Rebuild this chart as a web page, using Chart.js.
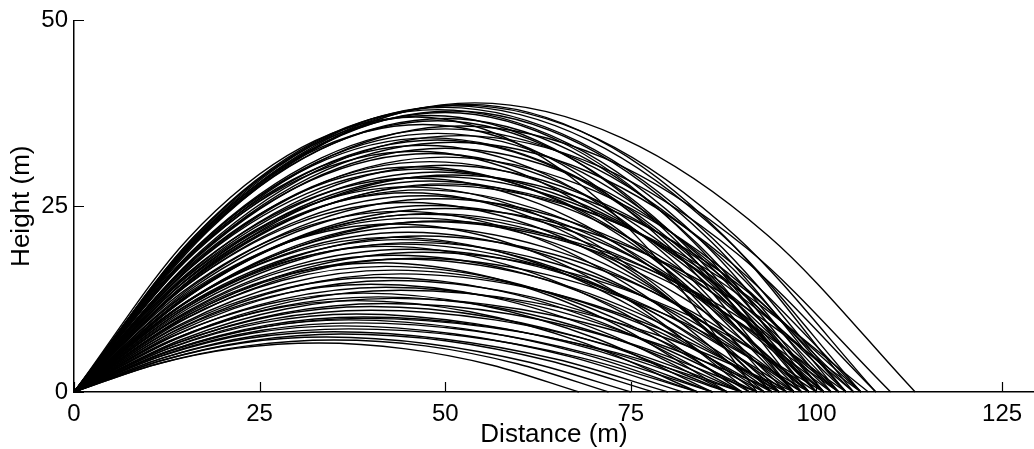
<!DOCTYPE html>
<html>
<head>
<meta charset="utf-8">
<script src="https://cdn.jsdelivr.net/npm/chart.js@4/dist/chart.umd.min.js"></script>
<style>
  html, body { margin: 0; padding: 0; background: #fff; }
  #wrap { width: 1034px; height: 449px; position: relative; }
</style>
</head>
<body>
<div id="wrap"><canvas id="myChart"></canvas></div>
<script>
// Trajectoires (m) : sommet, point d'impact,
// hauteurs a 1/3 et 2/3 de la montee, puis a 1/3 et 2/3 de la descente
const apexDist = [54, 52, 51, 50, 53, 49, 50, 48, 51, 46, 50, 49,
    50, 49, 48, 51, 47, 50, 46, 49, 52, 48,
    48, 50, 47, 49, 51, 46, 48, 50, 45, 47, 49, 46,
    47, 49, 45, 48, 50, 44, 47, 46, 49, 43, 46, 48,
    45, 47, 44, 46, 42, 45, 47, 43, 44, 41, 46, 43,
    43, 44, 41, 43, 40, 42, 44, 39, 41, 38, 42, 40,
    40, 38, 39, 37, 38, 36, 37, 35, 36, 34, 35, 33,
    47, 50, 45, 48, 44, 42, 43, 39, 52, 49];
const apexHeight = [38.9, 38.6, 38.5, 38.3, 38.7, 38.0, 37.6, 37.2, 37.8, 37.0, 36.8, 36.5,
    35.4, 34.8, 34.2, 33.6, 33.2, 32.8, 32.4, 33.9, 34.5, 32.1,
    31.0, 30.5, 30.0, 29.6, 29.2, 28.8, 28.4, 28.0, 27.6, 27.2, 29.0, 30.3,
    26.4, 26.0, 25.5, 25.1, 24.7, 24.3, 23.9, 23.4, 23.0, 22.6, 22.2, 24.0,
    21.5, 21.0, 20.5, 20.1, 19.6, 19.2, 18.8, 18.4, 17.9, 17.4, 18.0, 20.8,
    16.4, 15.9, 15.4, 15.0, 14.5, 14.1, 13.7, 13.3, 12.8, 12.3, 11.9, 11.5,
    11.0, 10.5, 10.1, 9.7, 9.3, 8.9, 8.5, 8.1, 7.8, 7.4, 7.0, 6.6,
    36.0, 31.6, 26.8, 22.9, 19.9, 16.9, 12.6, 9.9, 35.8, 27.8];
const landDist = [113.3, 108, 106, 104, 105, 102, 100, 98, 103, 92, 101, 99,
    104, 101, 100, 106, 97, 103, 95, 99, 108, 100,
    100, 104, 98, 102, 106, 96, 101, 105, 94, 99, 103, 97,
    99, 103, 95, 101, 106, 93, 99, 97, 104, 91, 98, 102,
    96, 100, 94, 98, 90, 97, 101, 93, 95, 88, 99, 92,
    94, 96, 90, 93, 88, 92, 97, 86, 90, 84, 92, 88,
    90, 86, 88, 84, 86, 82, 84, 80, 78, 75, 72, 68,
    97, 105, 94, 103, 95, 91, 95, 90, 110, 107];
const riseLow = [21.6, 21.5, 21.4, 21.3, 21.5, 21.1, 20.9, 20.7, 21.0, 20.6, 20.5, 20.3,
    19.7, 19.3, 19.0, 18.7, 18.5, 18.2, 18.0, 18.8, 19.2, 17.8,
    17.2, 17.0, 16.7, 16.5, 16.2, 16.0, 15.8, 15.6, 15.3, 15.1, 16.1, 16.8,
    14.7, 14.5, 14.2, 14.0, 13.7, 13.5, 13.3, 13.0, 12.8, 12.6, 12.3, 13.3,
    12.0, 11.7, 11.4, 11.2, 10.9, 10.7, 10.5, 10.2, 10.0, 9.7, 10.0, 11.6,
    9.1, 8.8, 8.6, 8.3, 8.1, 7.8, 7.6, 7.4, 7.1, 6.8, 6.6, 6.4,
    6.1, 5.8, 5.6, 5.4, 5.2, 4.9, 4.7, 4.5, 4.3, 4.1, 3.9, 3.7,
    20.0, 17.6, 14.9, 12.7, 11.1, 9.4, 7.0, 5.5, 19.9, 15.5];
const riseHigh = [34.6, 34.3, 34.2, 34.0, 34.4, 33.8, 33.4, 33.1, 33.6, 32.9, 32.7, 32.4,
    31.5, 30.9, 30.4, 29.9, 29.5, 29.2, 28.8, 30.1, 30.7, 28.5,
    27.6, 27.1, 26.7, 26.3, 26.0, 25.6, 25.2, 24.9, 24.5, 24.2, 25.8, 26.9,
    23.5, 23.1, 22.7, 22.3, 22.0, 21.6, 21.2, 20.8, 20.4, 20.1, 19.7, 21.3,
    19.1, 18.7, 18.2, 17.9, 17.4, 17.1, 16.7, 16.4, 15.9, 15.5, 16.0, 18.5,
    14.6, 14.1, 13.7, 13.3, 12.9, 12.5, 12.2, 11.8, 11.4, 10.9, 10.6, 10.2,
    9.8, 9.3, 9.0, 8.6, 8.3, 7.9, 7.6, 7.2, 6.9, 6.6, 6.2, 5.9,
    32.0, 28.1, 23.8, 20.4, 17.7, 15.0, 11.2, 8.8, 31.8, 24.7];
const fallHigh = [34.2, 34.0, 33.9, 33.7, 34.1, 33.4, 33.1, 32.7, 33.3, 32.6, 32.4, 32.1,
    31.2, 30.6, 30.1, 29.6, 29.2, 28.9, 28.5, 29.8, 30.4, 28.2,
    27.3, 26.8, 26.4, 26.0, 25.7, 25.3, 25.0, 24.6, 24.3, 23.9, 25.5, 26.7,
    23.2, 22.9, 22.4, 22.1, 21.7, 21.4, 21.0, 20.6, 20.2, 19.9, 19.5, 21.1,
    18.9, 18.5, 18.0, 17.7, 17.2, 16.9, 16.5, 16.2, 15.8, 15.3, 15.8, 18.3,
    14.4, 14.0, 13.6, 13.2, 12.8, 12.4, 12.1, 11.7, 11.3, 10.8, 10.5, 10.1,
    9.7, 9.2, 8.9, 8.5, 8.2, 7.8, 7.5, 7.1, 6.9, 6.5, 6.2, 5.8,
    31.7, 27.8, 23.6, 20.2, 17.5, 14.9, 11.1, 8.7, 31.5, 24.5];
const fallLow = [21.0, 20.8, 20.8, 20.7, 20.9, 20.5, 20.3, 20.1, 20.4, 20.0, 19.9, 19.7,
    19.1, 18.8, 18.5, 18.1, 17.9, 17.7, 17.5, 18.3, 18.6, 17.3,
    16.7, 16.5, 16.2, 16.0, 15.8, 15.6, 15.3, 15.1, 14.9, 14.7, 15.7, 16.4,
    14.3, 14.0, 13.8, 13.6, 13.3, 13.1, 12.9, 12.6, 12.4, 12.2, 12.0, 13.0,
    11.6, 11.3, 11.1, 10.9, 10.6, 10.4, 10.2, 9.9, 9.7, 9.4, 9.7, 11.2,
    8.9, 8.6, 8.3, 8.1, 7.8, 7.6, 7.4, 7.2, 6.9, 6.6, 6.4, 6.2,
    5.9, 5.7, 5.5, 5.2, 5.0, 4.8, 4.6, 4.4, 4.2, 4.0, 3.8, 3.6,
    19.4, 17.1, 14.5, 12.4, 10.7, 9.1, 6.8, 5.3, 19.3, 15.0];

const xTicks = [0, 25, 50, 75, 100, 125];
const yTicks = [0, 25, 50];

// Un jeu de donnees par trajectoire
var datasets = [];
for (var i = 0; i < apexDist.length; i++) {
    var a = apexDist[i], d = landDist[i] - apexDist[i];
    datasets.push({
        data: [
            { x: 0, y: 0 },
            { x: a / 3, y: riseLow[i] },
            { x: a * 2 / 3, y: riseHigh[i] },
            { x: a, y: apexHeight[i] },
            { x: a + d / 3, y: fallHigh[i] },
            { x: a + d * 2 / 3, y: fallLow[i] },
            { x: landDist[i], y: 0 }
        ],
        showLine: true,
        borderColor: '#000',
        borderWidth: 1.4,
        pointRadius: 0,
        cubicInterpolationMode: 'monotone',
        clip: false
    });
}

// Graduations vers l'interieur
const inwardTicks = {
    id: 'inwardTicks',
    afterDraw(chart) {
        const c = chart.ctx;
        const xs = chart.scales.x, ys = chart.scales.y;
        const area = chart.chartArea;
        c.save();
        c.strokeStyle = '#000';
        c.lineWidth = 1.2;
        c.beginPath();
        xTicks.forEach(function (v) {
            const px = Math.round(xs.getPixelForValue(v)) + 0.5;
            c.moveTo(px, area.bottom);
            c.lineTo(px, area.bottom - 10);
        });
        yTicks.forEach(function (v) {
            const py = Math.round(ys.getPixelForValue(v)) + 0.5;
            c.moveTo(area.left, py);
            c.lineTo(area.left + 10, py);
        });
        c.stroke();
        c.restore();
    }
};

const ctx = document.getElementById('myChart');
const police = 'Liberation Sans, Arial, sans-serif';

new Chart(ctx, {
    type: 'scatter',
    data: { datasets: datasets },
    options: {
        responsive: true,
        maintainAspectRatio: false,
        animation: false,
        events: [],
        layout: { padding: { top: 20, right: 0, bottom: 0, left: 0 } },
        plugins: {
            legend: { display: false },
            tooltip: { enabled: false }
        },
        scales: {
            x: {
                type: 'linear',
                min: 0,
                max: 129.3,
                afterBuildTicks: function (scale) {
                    scale.ticks = xTicks.map(function (v) { return { value: v }; });
                },
                afterFit: function (scale) { scale.height = 57; },
                grid: { display: true, drawOnChartArea: false, drawTicks: false },
                border: { display: true, color: '#000', width: 1.5 },
                ticks: {
                    color: '#000',
                    padding: 8,
                    maxRotation: 0,
                    font: { family: police, size: 24 }
                },
                title: {
                    display: true,
                    text: 'Distance (m)',
                    color: '#000',
                    padding: { top: 0, bottom: 1 },
                    font: { family: police, size: 26, lineHeight: 1 }
                }
            },
            y: {
                type: 'linear',
                min: 0,
                max: 50,
                afterBuildTicks: function (scale) {
                    scale.ticks = yTicks.map(function (v) { return { value: v }; });
                },
                afterFit: function (scale) { scale.width = 74; },
                grid: { display: true, drawOnChartArea: false, drawTicks: false },
                border: { display: true, color: '#000', width: 1.5 },
                ticks: {
                    color: '#000',
                    padding: 6,
                    font: { family: police, size: 24 }
                },
                title: {
                    display: true,
                    text: 'Height (m)',
                    color: '#000',
                    padding: { top: 9, bottom: 0 },
                    font: { family: police, size: 26, lineHeight: 1 }
                }
            }
        }
    },
    plugins: [inwardTicks]
});
</script>
</body>
</html>
